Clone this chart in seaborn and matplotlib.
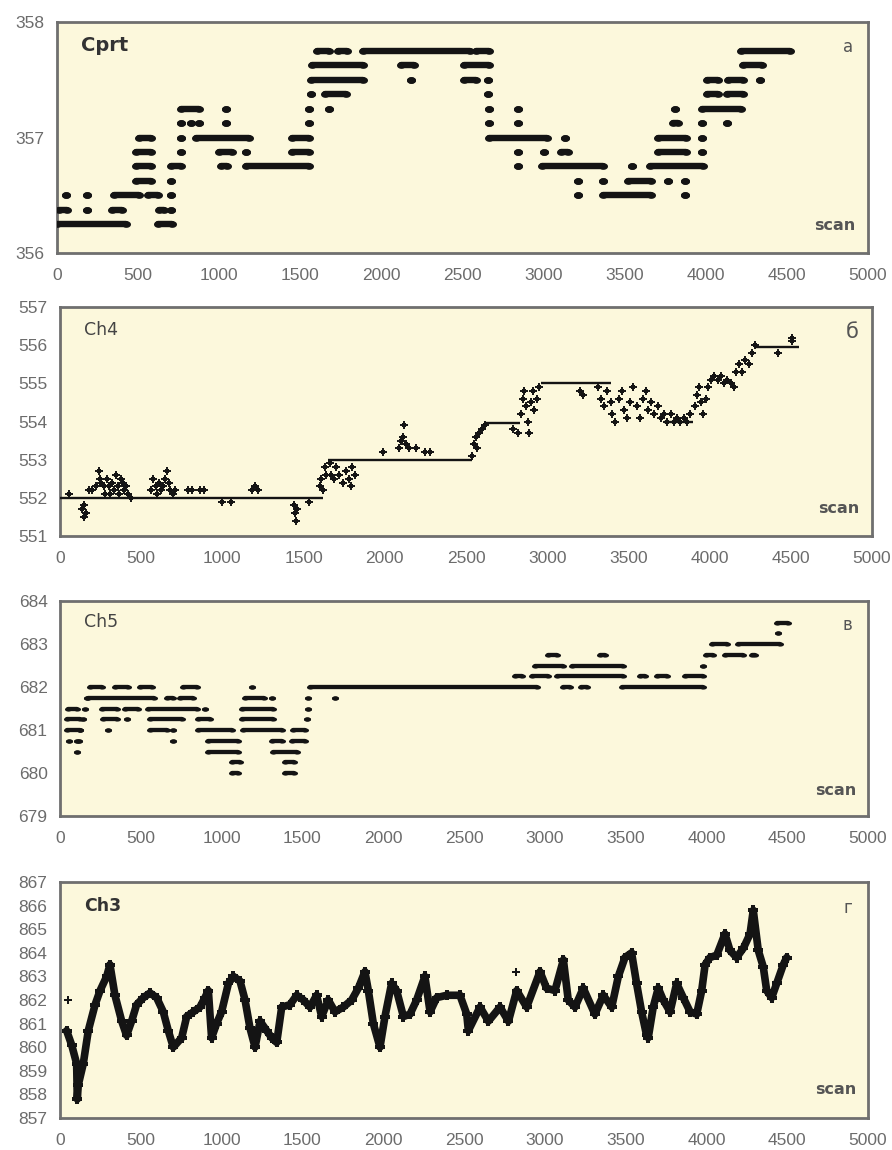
import numpy as np
import matplotlib
matplotlib.use("Agg")
import matplotlib.pyplot as plt
import seaborn as sns
import pandas as pd

# ---------------- DATA ----------------
# Panel a (Cprt): runs of consecutive scans at quantized levels
cprt_level = [356.25, 356.25,
              356.375, 356.375, 356.375, 356.375, 356.375,
              356.5, 356.5, 356.5, 356.5, 356.5,
              356.625, 356.625,
              356.75, 356.75, 356.75, 356.75,
              356.875, 356.875, 356.875, 356.875, 356.875,
              357.0, 357.0, 357.0, 357.0,
              357.125, 357.125, 357.125, 357.125, 357.125,
              357.25, 357.25, 357.25, 357.25,
              357.375, 357.375,
              357.5, 357.5,
              357.625, 357.625,
              357.75, 357.75, 357.75, 357.75, 357.75,
              357.625, 357.625,
              357.5, 357.5, 357.5, 357.5, 357.5,
              357.375, 357.375, 357.375,
              357.25, 357.25, 357.25, 357.25,
              357.125, 357.125, 357.125, 357.125, 357.125,
              357.0, 357.0, 357.0, 357.0,
              356.875, 356.875, 356.875, 356.875, 356.875,
              356.75, 356.75, 356.75, 356.75,
              356.625, 356.625, 356.625, 356.625, 356.625,
              356.5, 356.5, 356.5]
cprt_start = [0, 620,
              10, 185, 340, 630, 700,
              55, 185, 350, 560, 700,
              485, 700,
              485, 700, 1010, 1165,
              485, 765, 1000, 1165, 1450,
              505, 765, 855, 1450,
              765, 825, 875, 1040, 1555,
              765, 1040, 1555, 1680,
              1565, 1650,
              1565, 2180,
              1575, 2120,
              1600, 1730, 1885, 2585, 4220,
              2510, 4230,
              2510, 2660, 4005, 4135, 4335,
              2660, 4005, 4130,
              2665, 2840, 3810, 3975,
              2665, 2840, 3800, 3975, 4130,
              2665, 3130, 3705, 3975,
              2840, 3005, 3110, 3705, 3975,
              2840, 2990, 3545, 3655,
              3210, 3365, 3520, 3765, 3870,
              3210, 3365, 3870]
cprt_end = [425, 710,
            60, 185, 400, 660, 700,
            55, 185, 505, 620, 700,
            580, 700,
            580, 765, 1050, 1555,
            580, 765, 1080, 1165, 1555,
            580, 765, 1185, 1555,
            765, 825, 875, 1040, 1555,
            875, 1040, 1555, 1680,
            1565, 1780,
            1885, 2180,
            1885, 2200,
            1680, 1790, 2545, 2665, 4520,
            2665, 4345,
            2585, 2660, 4075, 4230, 4335,
            2660, 4075, 4230,
            2665, 2840, 3810, 4220,
            2665, 2840, 3830, 3975, 4130,
            3020, 3130, 3880, 3975,
            2840, 3005, 3150, 3880, 3975,
            2840, 3365, 3545, 3980,
            3210, 3365, 3665, 3765, 3870,
            3210, 3665, 3870]

# Panel b (Ch4): step levels and scattered readings
ch4_level = [552.0, 553.0, 553.95, 555.0, 554.0, 555.95]
ch4_start = [0, 1650, 2620, 2960, 3720, 4275]
ch4_end = [1620, 2540, 2830, 3390, 3900, 4550]
ch4_x = [55, 135, 150, 160, 145, 180, 200, 220, 240, 245, 255, 270, 280, 290, 300, 310, 320,
         330, 345, 355, 365, 375, 385, 395, 405, 420, 440, 560, 575, 590, 600, 610, 620, 635,
         645, 660, 670, 680, 695, 710, 790, 810, 865, 885, 1000, 1050, 1180, 1200, 1220,
         1440, 1450, 1455, 1460, 1535, 1600, 1610, 1620, 1630, 1640, 1660, 1670, 1690, 1700,
         1720, 1740, 1760, 1780, 1790, 1800, 1815, 1990, 2085, 2100, 2110, 2120, 2130, 2150,
         2195, 2250, 2280,
         2540, 2550, 2560, 2570, 2580, 2600, 2620, 2790, 2820,
         2840, 2850, 2860, 2870, 2880, 2890, 2900, 2910, 2920, 2935, 2950,
         3200, 3220, 3310, 3330, 3350, 3370, 3390, 3400, 3420, 3440, 3460, 3470, 3490, 3510,
         3530, 3550, 3570, 3590, 3610, 3620, 3640, 3660, 3680, 3700, 3720, 3740, 3760, 3780,
         3800, 3820, 3840, 3860, 3880,
         3910, 3920, 3935, 3950, 3960, 3975, 3990, 4010, 4030, 4050, 4070, 4090, 4110, 4130,
         4150, 4160, 4180, 4200, 4220, 4240, 4260, 4280, 4420, 4505, 4505]
ch4_y = [552.1, 551.7, 551.5, 551.6, 551.8, 552.2, 552.2, 552.3, 552.7, 552.5, 552.4, 552.3,
         552.1, 552.5, 552.3, 552.1, 552.4, 552.2, 552.6, 552.3, 552.1, 552.5, 552.4, 552.2,
         552.3, 552.1, 552.0, 552.2, 552.5, 552.3, 552.1, 552.4, 552.2, 552.3, 552.5, 552.7,
         552.4, 552.2, 552.1, 552.2, 552.2, 552.2, 552.2, 552.2, 551.9, 551.9, 552.2, 552.3,
         552.2, 551.8, 551.6, 551.4, 551.7, 551.9, 552.3, 552.5, 552.2, 552.8, 552.6, 552.9,
         552.6, 552.5, 552.8, 552.6, 552.4, 552.7, 552.5, 552.3, 552.8, 552.6, 553.2, 553.3,
         553.5, 553.6, 553.9, 553.4, 553.3, 553.3, 553.2, 553.2,
         553.1, 553.4, 553.6, 553.3, 553.7, 553.8, 553.9, 553.8, 553.7,
         554.2, 554.6, 554.8, 554.4, 554.0, 553.7, 554.5, 554.8, 554.3, 554.6, 554.9,
         554.8, 554.7, 554.9, 554.6, 554.4, 554.8, 554.5, 554.2, 554.0, 554.6, 554.8, 554.3,
         554.1, 554.5, 554.9, 554.4, 554.1, 554.6, 554.8, 554.3, 554.5, 554.2, 554.4, 554.1,
         554.2, 554.0, 554.2, 554.0, 554.1, 554.0, 554.1, 554.0, 554.2,
         554.4, 554.7, 554.9, 554.5, 554.2, 554.6, 554.9, 555.1, 555.2, 555.1, 555.2, 555.0,
         555.1, 555.0, 554.9, 555.3, 555.5, 555.3, 555.6, 555.5, 555.8, 556.0, 555.8, 556.2,
         556.1]

# Panel c (Ch5): runs at quantized levels
ch5_level = [682.0] * 9 + [681.75] * 7 + [681.5] * 7 + [681.25] * 7 + [681.0] * 7 + \
            [680.75] * 6 + [680.5] * 3 + [680.25] * 2 + [680.0] * 2 + [682.25] * 6 + \
            [682.5] * 3 + [682.75] * 5 + [683.0] * 2 + [683.25] + [683.5] + \
            [680.75, 681.0, 681.25, 681.5, 681.75]
ch5_start = [185, 340, 495, 760, 1190, 1550, 3110, 3225, 3475,
             175, 660, 740, 1145, 1310, 1535, 1700,
             50, 260, 400, 545, 900, 1125, 1535,
             45, 265, 415, 560, 855, 1125, 1530,
             45, 300, 560, 700, 855, 1135, 1440,
             55, 105, 700, 915, 1310, 1435,
             105, 915, 1320,
             1065, 1395,
             1065, 1395,
             2815, 2920, 3075, 3590, 3695, 3870,
             2940, 3170, 3980,
             3020, 3340, 4000, 4115, 4280,
             4035, 4195,
             4445,
             4435,
             115, 125, 140, 155, 170]
ch5_end = [260, 420, 570, 845, 1190, 2950, 3155, 3260, 3980,
           580, 700, 825, 1260, 1310, 1535, 1700,
           105, 350, 480, 845, 900, 1320, 1535,
           125, 350, 415, 755, 930, 1320, 1530,
           125, 300, 660, 700, 1065, 1375, 1515,
           55, 105, 700, 1100, 1375, 1515,
           105, 1100, 1465,
           1115, 1445,
           1100, 1445,
           2860, 3020, 3485, 3620, 3755, 3980,
           3115, 3485, 3980,
           3075, 3370, 4040, 4225, 4300,
           4125, 4455,
           4445,
           4505,
           115, 125, 140, 155, 170]

# Panel d (Ch3): trace of readings
ch3_x = [41, 72, 103, 107, 113, 144, 175, 217, 248, 289, 309, 340, 382, 412, 443, 474, 516,
         557, 598, 639, 670, 701, 753, 784, 825, 866, 897, 918, 938, 969, 1000, 1042, 1073,
         1114, 1145, 1176, 1207, 1238, 1279, 1310, 1341, 1372, 1423, 1465, 1506, 1547, 1588,
         1619, 1660, 1702, 1753, 1805, 1846, 1887, 1908, 1939, 1980, 2011, 2052, 2083, 2125,
         2166, 2207, 2258, 2290, 2331, 2393, 2475, 2517, 2527, 2599, 2651, 2723, 2775, 2826,
         2888, 2970, 3011, 3063, 3115, 3145, 3187, 3238, 3310, 3362, 3414, 3455, 3496, 3537,
         3568, 3599, 3630, 3640, 3671, 3702, 3733, 3775, 3816, 3857, 3899, 3940, 3971, 3992,
         4022, 4064, 4115, 4146, 4187, 4229, 4270, 4290, 4321, 4352, 4373, 4404, 4435, 4476,
         4497]
ch3_y = [860.7, 860.1, 859.3, 857.8, 858.4, 859.3, 860.7, 861.8, 862.4, 863.0, 863.5, 862.2,
         861.1, 860.5, 861.1, 861.8, 862.1, 862.3, 862.1, 861.5, 860.7, 860.0, 860.4, 861.3,
         861.5, 861.7, 862.1, 862.4, 860.4, 861.0, 861.5, 862.7, 863.0, 862.8, 862.0, 860.8,
         860.0, 861.1, 860.7, 860.4, 860.2, 861.7, 861.8, 862.2, 862.0, 861.7, 862.2, 861.3,
         862.0, 861.5, 861.7, 862.0, 862.5, 863.2, 862.4, 861.0, 860.0, 861.3, 862.7, 862.4,
         861.3, 861.4, 862.0, 863.0, 861.5, 862.1, 862.2, 862.2, 861.4, 860.7, 861.7, 861.1,
         861.7, 861.1, 862.4, 861.7, 863.2, 862.5, 862.4, 863.7, 862.0, 861.7, 862.5, 861.4,
         862.2, 861.7, 863.0, 863.8, 864.0, 862.7, 861.5, 860.5, 860.4, 861.7, 862.5, 862.0,
         861.5, 862.7, 862.1, 861.5, 861.4, 862.4, 863.5, 863.8, 863.9, 864.8, 864.1, 863.8,
         864.2, 864.8, 865.8, 864.1, 863.4, 862.4, 862.1, 862.7, 863.5, 863.8]
ch3_extra_x = [52, 2822]
ch3_extra_y = [862.0, 863.2]

# Axis labels / texts
x_ticks = [0, 500, 1000, 1500, 2000, 2500, 3000, 3500, 4000, 4500, 5000]
panel_names = ["Cprt", "Ch4", "Ch5", "Ch3"]
panel_letters = ["а", "б", "в", "г"]
panel_ylims = [(356, 358), (551, 557), (679, 684), (857, 867)]
panel_yticks = [[356, 357, 358], list(range(551, 558)), list(range(679, 685)),
                list(range(857, 868))]

# ---------------- STYLE ----------------
sns.set_style("white", {"axes.facecolor": "#fcf8dc"})
plt.rcParams["font.family"] = ["Liberation Sans", "DejaVu Sans"]

W, H = 892, 1150
fig = plt.figure(figsize=(W / 100, H / 100), dpi=100)
fig.patch.set_facecolor("white")

# axes boxes in pixels: left, top, right, bottom
boxes = [(57, 22, 868, 253), (60, 307, 872, 536), (60, 601, 868, 816), (60, 882, 868, 1118)]
axes = []
for (l, t, r, b) in boxes:
    ax = fig.add_axes([l / W, 1 - b / H, (r - l) / W, (b - t) / H])
    axes.append(ax)

ink = "#141414"
tick_col = "#6c6c6c"


def ellipse_marker(ratio):
    t = np.linspace(0, 2 * np.pi, 40)
    return np.column_stack([ratio * np.cos(t), np.sin(t)])


def draw_runs(ax, level, x0, x1, lw, msize, ratio):
    df = pd.DataFrame({"y": level, "x0": x0, "x1": x1})
    long = df[df.x1 > df.x0]
    lc = ax.hlines(long.y, long.x0, long.x1, colors=ink, linewidth=lw, zorder=3)
    lc.set_capstyle("round")
    pts = pd.DataFrame({"x": list(df.x0) + list(df.x1), "y": list(df.y) + list(df.y)})
    sns.scatterplot(data=pts, x="x", y="y", ax=ax, marker=ellipse_marker(ratio),
                    s=msize, color=ink, edgecolor=ink, linewidth=0, zorder=4, legend=False)


# Panel a
draw_runs(axes[0], cprt_level, cprt_start, cprt_end, lw=4.6, msize=42, ratio=1.35)

# Panel b
ax = axes[1]
lc = ax.hlines(ch4_level, ch4_start, ch4_end, colors=ink, linewidth=1.7, zorder=3)
sns.scatterplot(x=ch4_x, y=ch4_y, ax=ax, marker="+", s=26, color=ink, linewidth=1.4,
                zorder=4, legend=False)
sns.scatterplot(x=ch4_x, y=ch4_y, ax=ax, marker="s", s=8, color=ink, linewidth=0,
                zorder=4, legend=False)

# Panel c
draw_runs(axes[2], ch5_level, ch5_start, ch5_end, lw=3.1, msize=26, ratio=1.7)

# Panel d
ax = axes[3]
df3 = pd.DataFrame({"x": ch3_x, "y": ch3_y})
sns.lineplot(data=df3, x="x", y="y", ax=ax, sort=False, estimator=None, color=ink,
             linewidth=5.5, zorder=3)
sns.lineplot(data=df3, x="x", y="y", ax=ax, sort=False, estimator=None, color=ink,
             linewidth=0, marker="P", markersize=7.5, markeredgewidth=0, zorder=4)
sns.scatterplot(x=ch3_extra_x, y=ch3_extra_y, ax=ax, marker="P", s=40, color=ink,
                linewidth=0, zorder=4, legend=False)

for i, ax in enumerate(axes):
    ax.set_xlim(0, 5000)
    ax.set_ylim(*panel_ylims[i])
    ax.set_xticks(x_ticks)
    ax.set_yticks(panel_yticks[i])
    ax.set_xlabel("")
    ax.set_ylabel("")
    ax.tick_params(axis="both", length=0, labelsize=12.5, labelcolor=tick_col)
    ax.tick_params(axis="x", pad=11)
    ax.tick_params(axis="y", pad=9)
    for sp in ax.spines.values():
        sp.set_visible(True)
        sp.set_color("#6f6f6f")
        sp.set_linewidth(2.0)
    bold = i in (0, 3)
    ax.text(0.030, 0.90, panel_names[i], transform=ax.transAxes, ha="left", va="center",
            fontsize=14 if i == 0 else 12.5, fontweight="bold" if bold else "normal",
            color="#333333" if bold else "#444444", family=["DejaVu Sans"])
    ax.text(0.975, 0.89, panel_letters[i], transform=ax.transAxes, ha="center",
            va="center", fontsize=15 if i == 1 else 12, color="#555555",
            family=["DejaVu Sans"])
    ax.text(0.985, 0.12, "scan", transform=ax.transAxes, ha="right", va="center",
            fontsize=11.5, fontweight="bold", color="#555555", family=["DejaVu Sans"])

fig.savefig("out.png", dpi=100, facecolor="white")
